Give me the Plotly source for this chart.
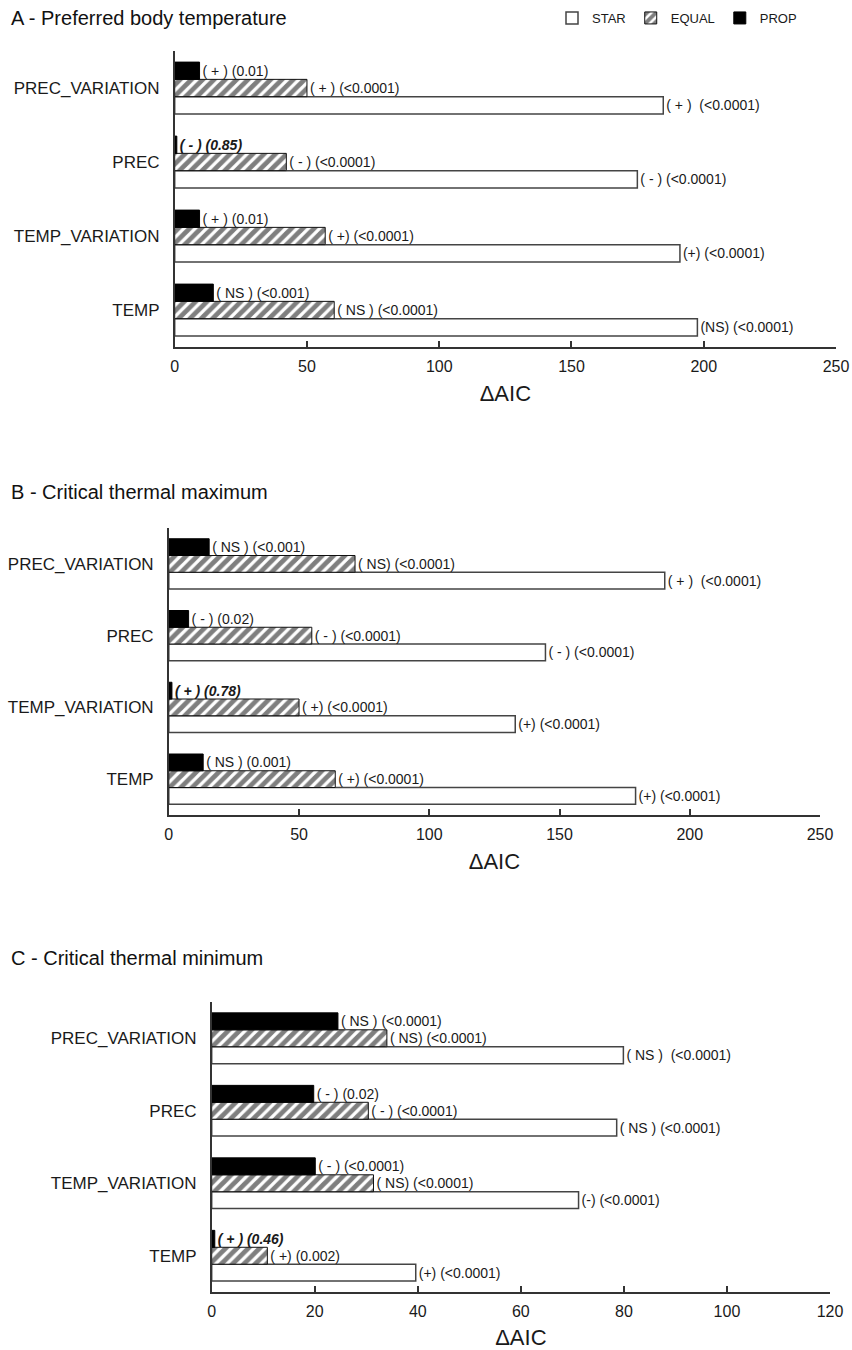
import plotly.graph_objects as go

categories = ["TEMP", "TEMP_VARIATION", "PREC", "PREC_VARIATION"]
NB = "\u00a0"

# Panel A - Preferred body temperature
a_star = [197.6, 191.0, 174.9, 184.7]
a_equal = [60.3, 56.9, 42.2, 50.0]
a_prop = [14.6, 9.4, 0.8, 9.4]
a_star_txt = ["(NS) (<0.0001)", "(+) (<0.0001)", "( - ) (<0.0001)", "( + )" + NB + " (<0.0001)"]
a_equal_txt = ["( NS ) (<0.0001)", "( +) (<0.0001)", "( - ) (<0.0001)", "( + ) (<0.0001)"]
a_prop_txt = ["( NS ) (<0.001)", "( + ) (0.01)", "<b><i>( - ) (0.85)</i></b>", "( + ) (0.01)"]

# Panel B - Critical thermal maximum
b_star = [179.2, 133.0, 144.6, 190.4]
b_equal = [63.9, 50.0, 54.9, 71.5]
b_prop = [13.2, 1.2, 7.6, 15.5]
b_star_txt = ["(+) (<0.0001)", "(+) (<0.0001)", "( - ) (<0.0001)", "( + )" + NB + " (<0.0001)"]
b_equal_txt = ["( +) (<0.0001)", "( +) (<0.0001)", "( - ) (<0.0001)", "( NS) (<0.0001)"]
b_prop_txt = ["( NS ) (0.001)", "<b><i>( + ) (0.78)</i></b>", "( - ) (0.02)", "( NS ) (<0.001)"]

# Panel C - Critical thermal minimum
c_star = [39.6, 71.2, 78.6, 79.9]
c_equal = [10.8, 31.4, 30.4, 34.0]
c_prop = [0.6, 20.1, 19.8, 24.5]
c_star_txt = ["(+) (<0.0001)", "(-) (<0.0001)", "( NS ) (<0.0001)", "( NS )" + NB + " (<0.0001)"]
c_equal_txt = ["( +) (0.002)", "( NS) (<0.0001)", "( - ) (<0.0001)", "( NS) (<0.0001)"]
c_prop_txt = ["<b><i>( + ) (0.46)</i></b>", "( - ) (<0.0001)", "( - ) (0.02)", "( NS ) (<0.0001)"]

titles = ["A - Preferred body temperature", "B - Critical thermal maximum", "C - Critical thermal minimum"]
x_ranges = [[0, 250], [0, 250], [0, 120]]
x_dticks = [50, 50, 20]

W, H = 852, 1350
FONT = "Liberation Sans, Arial, sans-serif"
TXT = "#1a1a1a"

# pixel geometry of each panel: (left, right, top, bottom)
panels_px = [(174.7, 836.0, 51, 347), (168.8, 820.0, 528, 815), (211.7, 830.0, 1002, 1292)]
title_y_px = [18, 492, 958]

panel_data = [
    (a_star, a_equal, a_prop, a_star_txt, a_equal_txt, a_prop_txt),
    (b_star, b_equal, b_prop, b_star_txt, b_equal_txt, b_prop_txt),
    (c_star, c_equal, c_prop, c_star_txt, c_equal_txt, c_prop_txt),
]

fig = go.Figure()

for i, (star, equal, prop, st, et, pt) in enumerate(panel_data):
    xa = "x" if i == 0 else f"x{i+1}"
    ya = "y" if i == 0 else f"y{i+1}"
    common = dict(orientation="h", xaxis=xa, yaxis=ya, textposition="outside",
                  cliponaxis=False, constraintext="none",
                  textfont=dict(size=14, color=TXT, family=FONT))
    fig.add_trace(go.Bar(x=star, y=categories, text=st, name="STAR", legendrank=1,
                         marker=dict(color="white", line=dict(color="#444444", width=1.5)),
                         showlegend=(i == 0), **common))
    fig.add_trace(go.Bar(x=equal, y=categories, text=et, name="EQUAL", legendrank=2,
                         marker=dict(color="white", line=dict(color="#111111", width=1),
                                     pattern=dict(shape="/", fgcolor="black", bgcolor="white",
                                                  size=8, solidity=0.6)),
                         showlegend=(i == 0), **common))
    fig.add_trace(go.Bar(x=prop, y=categories, text=pt, name="PROP", legendrank=3,
                         marker=dict(color="black", line=dict(color="black", width=1)),
                         showlegend=(i == 0), **common))

layout = {}
for i, (l, r, t, b) in enumerate(panels_px):
    sx = "" if i == 0 else str(i + 1)
    layout[f"xaxis{sx}"] = dict(
        domain=[l / W, r / W], anchor=f"y{sx}", range=x_ranges[i], dtick=x_dticks[i],
        showline=True, linecolor="#333333", linewidth=1.5, ticks="inside", ticklen=6,
        tickcolor="#333333", tickwidth=1.5, showgrid=False, zeroline=False,
        tickfont=dict(size=16, color=TXT, family=FONT), automargin=False,
        ticklabelstandoff=4,
        title=dict(text="ΔAIC", font=dict(size=22, color=TXT, family=FONT), standoff=12),
    )
    layout[f"yaxis{sx}"] = dict(
        domain=[1 - b / H, 1 - t / H], anchor=f"x{sx}", range=[-0.5, 3.5],
        categoryorder="array", categoryarray=categories,
        showline=True, linecolor="#333333", linewidth=1.5, ticks="", showgrid=False,
        zeroline=False, tickfont=dict(size=17, color=TXT, family=FONT),
        ticklabelstandoff=10, automargin=False,
    )

annotations = []
for i, t in enumerate(titles):
    annotations.append(dict(text=t, x=9 / W, y=1 - title_y_px[i] / H, xref="paper", yref="paper",
                            xanchor="left", yanchor="middle", showarrow=False,
                            font=dict(size=20, color="#111111", family=FONT)))

fig.update_layout(
    width=W, height=H, margin=dict(l=0, r=0, t=0, b=0),
    plot_bgcolor="white", paper_bgcolor="white",
    barmode="group", bargap=0.3, bargroupgap=0,
    font=dict(family=FONT, color=TXT),
    annotations=annotations,
    legend=dict(orientation="h", x=552 / W, y=1 - 3 / H, xanchor="left", yanchor="top",
                font=dict(size=13, color=TXT, family=FONT), itemwidth=30,
                bgcolor="rgba(0,0,0,0)", traceorder="normal"),
    **layout,
)

fig.write_html("out.html", config={"displayModeBar": False},
               post_script="document.body.style.margin='0px';document.body.style.padding='0px';")
